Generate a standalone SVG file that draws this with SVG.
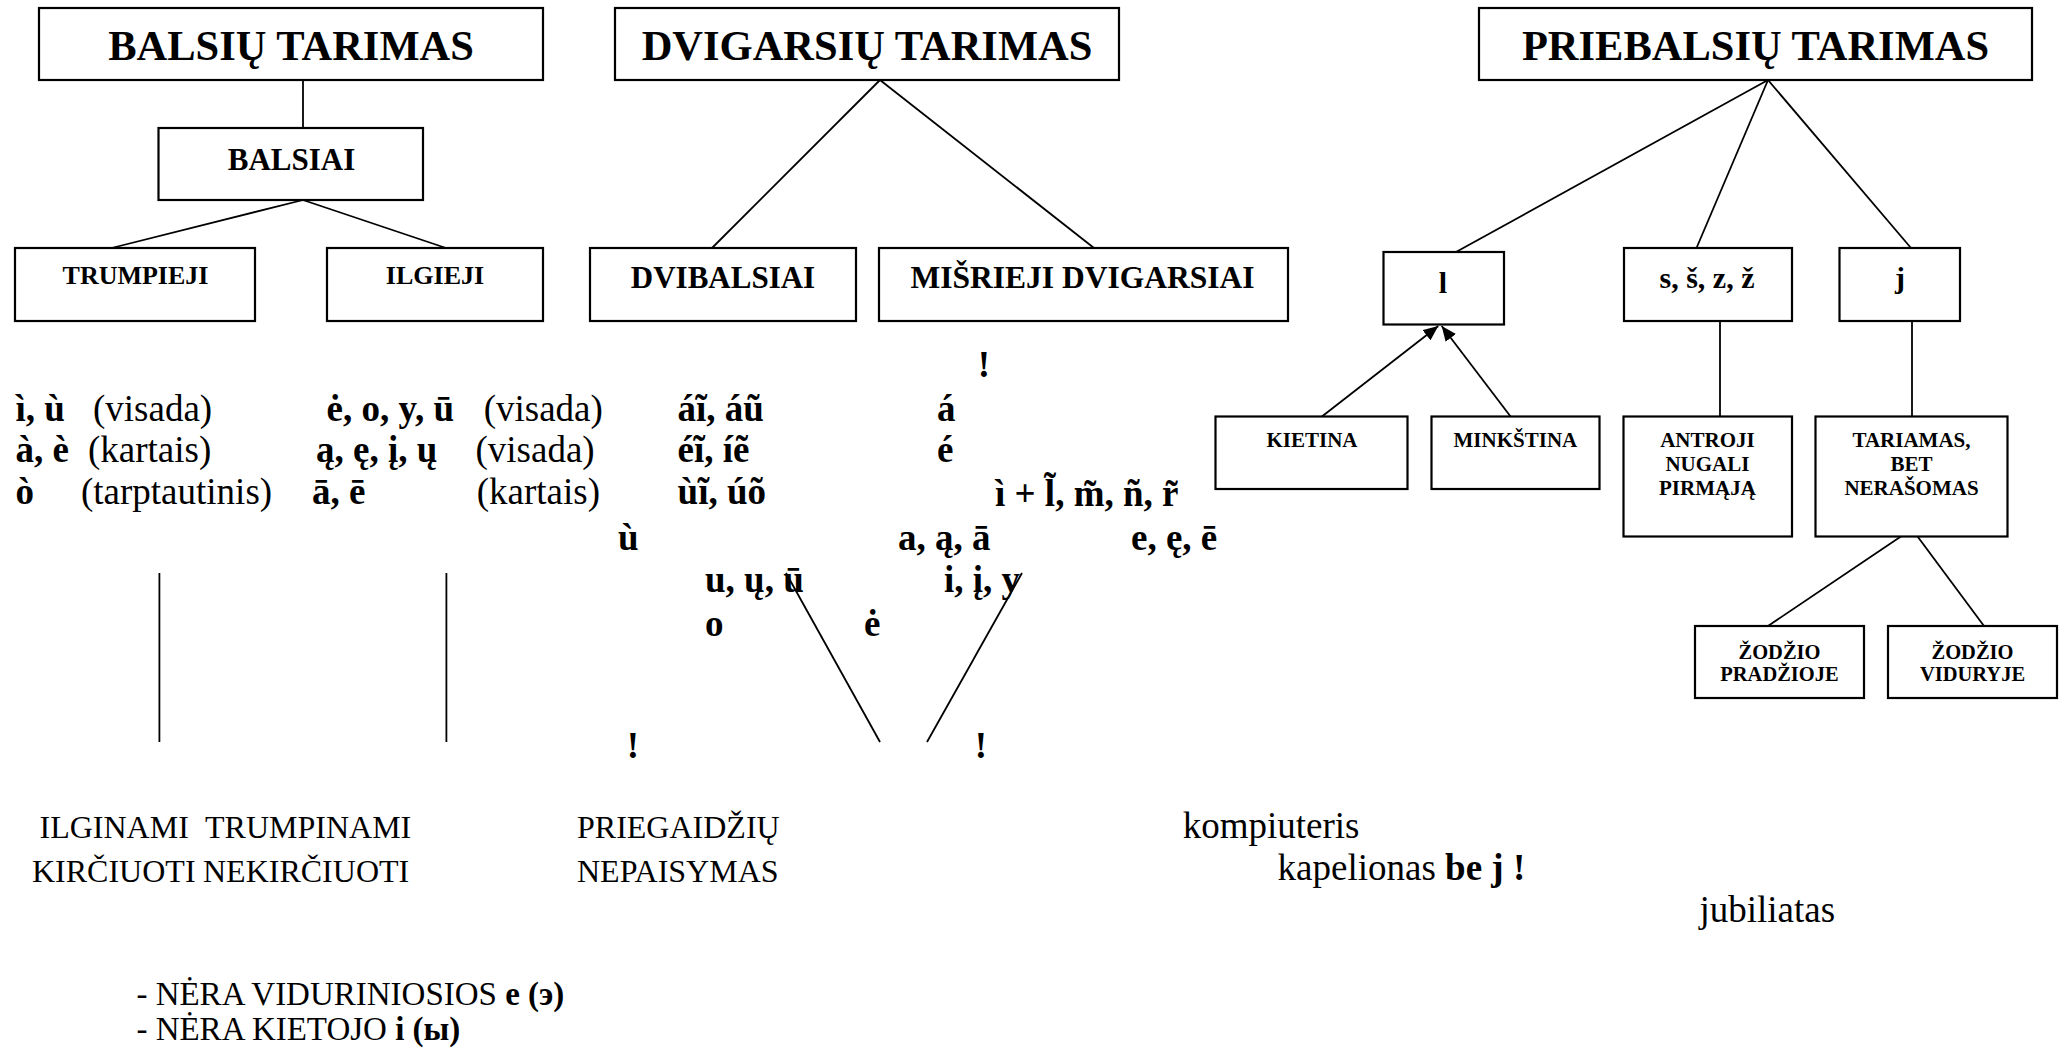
<svg xmlns="http://www.w3.org/2000/svg" width="2060" height="1054" viewBox="0 0 2060 1054">
<style>
.box{fill:#fff;stroke:#000;stroke-width:2.2}
.ln{stroke:#000;stroke-width:1.8;fill:none}
text{font-family:"Liberation Serif","Times New Roman",serif;fill:#000}
.b{font-weight:bold}
.mid{text-anchor:middle}
.t1{font-size:42.5px;font-weight:bold;text-anchor:middle}
.t2{font-size:31px;font-weight:bold;text-anchor:middle}
.t3{font-size:26px;font-weight:bold;text-anchor:middle}
.t4{font-size:21px;font-weight:bold;text-anchor:middle}
.t5{font-size:20.5px;font-weight:bold;text-anchor:middle}
.s37{font-size:37px}
.s32{font-size:32px}
.s33{font-size:33px}
</style>
<defs>
<marker id="arr" markerUnits="userSpaceOnUse" markerWidth="15" markerHeight="13" refX="15" refY="6.5" orient="auto">
<path d="M0,0 L15,6.5 L0,13 Z" fill="#000"/>
</marker>
</defs>
<rect width="2060" height="1054" fill="#fff"/>

<g id="connectors">
<line class="ln" x1="303" y1="80" x2="303" y2="128"/>
<line class="ln" x1="303" y1="200" x2="111.6" y2="248"/>
<line class="ln" x1="303" y1="200" x2="446" y2="248"/>
<line class="ln" x1="880" y1="80" x2="712" y2="248"/>
<line class="ln" x1="880" y1="80" x2="1094" y2="248"/>
<line class="ln" x1="1768" y1="80" x2="1456" y2="252"/>
<line class="ln" x1="1768" y1="80" x2="1696.5" y2="248"/>
<line class="ln" x1="1768" y1="80" x2="1911" y2="248"/>
<line class="ln" x1="1720" y1="321" x2="1720" y2="416.5"/>
<line class="ln" x1="1912" y1="321" x2="1912" y2="416.5"/>
<line class="ln" x1="1320" y1="418" x2="1438.3" y2="326" marker-end="url(#arr)"/>
<line class="ln" x1="1511.7" y1="418" x2="1441.7" y2="326" marker-end="url(#arr)"/>
<line class="ln" x1="1912" y1="529" x2="1768" y2="626"/>
<line class="ln" x1="1912" y1="529" x2="1984" y2="626"/>
<line class="ln" x1="159.4" y1="573" x2="159.4" y2="742"/>
<line class="ln" x1="446.4" y1="573" x2="446.4" y2="742"/>
<line class="ln" x1="786" y1="573" x2="880" y2="742"/>
<line class="ln" x1="1022" y1="573" x2="927" y2="742"/>
</g>

<g id="balsiu-tarimas"><rect class="box" x="39" y="8" width="504" height="72"/><text class="t1" x="291" y="60">BALSIŲ TARIMAS</text></g>
<g id="balsiai"><rect class="box" x="158.5" y="128" width="264.5" height="72"/><text class="t2" x="291.5" y="170">BALSIAI</text></g>
<g id="trumpieji"><rect class="box" x="15" y="248" width="240" height="73"/><text class="t3" x="135.5" y="284">TRUMPIEJI</text></g>
<g id="ilgieji"><rect class="box" x="327" y="248" width="216" height="73"/><text class="t3" x="435" y="284">ILGIEJI</text></g>

<g id="dvigarsiu-tarimas"><rect class="box" x="615" y="8" width="504" height="72"/><text class="t1" x="867" y="60">DVIGARSIŲ TARIMAS</text></g>
<g id="dvibalsiai"><rect class="box" x="590" y="248" width="266" height="73"/><text class="t2" x="723" y="288">DVIBALSIAI</text></g>
<g id="misrieji"><rect class="box" x="879" y="248" width="409" height="73"/><text class="t2" x="1082.5" y="288" style="font-size:31.5px">MIŠRIEJI DVIGARSIAI</text></g>

<g id="priebalsiu-tarimas"><rect class="box" x="1479" y="8" width="553" height="72"/><text class="t1" x="1755.5" y="60">PRIEBALSIŲ TARIMAS</text></g>
<g id="l"><rect class="box" x="1383.5" y="252" width="120.5" height="72.5"/><text class="t2" x="1443" y="293" style="font-size:30px">l</text></g>
<g id="s"><rect class="box" x="1624" y="248" width="168" height="73"/><text class="t2" x="1707" y="288" style="font-size:30px">s, š, z, ž</text></g>
<g id="j"><rect class="box" x="1839.5" y="248" width="120.5" height="73"/><text class="t2" x="1900" y="288" style="font-size:30px">j</text></g>
<g id="kietina"><rect class="box" x="1215.5" y="416.5" width="192" height="72.5"/><text class="t4" x="1312" y="446.7">KIETINA</text></g>
<g id="minkstina"><rect class="box" x="1431.5" y="416.5" width="168" height="72.5"/><text class="t4" x="1515.4" y="446.7">MINKŠTINA</text></g>
<g id="antroji"><rect class="box" x="1623.5" y="416.5" width="168.5" height="120"/><text class="t4" x="1707.4" y="446.7">ANTROJI</text><text class="t4" x="1707.4" y="470.7">NUGALI</text><text class="t4" x="1707.4" y="495">PIRMĄJĄ</text></g>
<g id="tariamas"><rect class="box" x="1815.5" y="416.5" width="192" height="120"/><text class="t4" x="1911.5" y="446.7">TARIAMAS,</text><text class="t4" x="1911.5" y="470.7">BET</text><text class="t4" x="1911.5" y="495">NERAŠOMAS</text></g>
<g id="zodzio-pradzioje"><rect class="box" x="1695" y="626" width="169" height="72"/><text class="t5" x="1779.5" y="659">ŽODŽIO</text><text class="t5" x="1779.5" y="681">PRADŽIOJE</text></g>
<g id="zodzio-viduryje"><rect class="box" x="1888" y="626" width="169" height="72"/><text class="t5" x="1972.5" y="659">ŽODŽIO</text><text class="t5" x="1972.5" y="681">VIDURYJE</text></g>

<g id="annotations">
<text class="s37 b mid" x="984" y="377">!</text>
<text class="s37 b" x="15.5" y="421">ì, ù</text>
<text class="s37" x="93" y="421">(visada)</text>
<text class="s37 b" x="326.5" y="421">ė, o, y, ū</text>
<text class="s37" x="483.7" y="421">(visada)</text>
<text class="s37 b" x="677.6" y="421">áĩ, áũ</text>
<text class="s37 b" x="937" y="421">á</text>

<text class="s37 b" x="15.5" y="462">à, è</text>
<text class="s37" x="88" y="462">(kartais)</text>
<text class="s37 b" x="316" y="462">ą, ę, į, ų</text>
<text class="s37" x="475.5" y="462">(visada)</text>
<text class="s37 b" x="677.6" y="462">éĩ, íẽ</text>
<text class="s37 b" x="937" y="462">é</text>

<text class="s37 b" x="15.5" y="504">ò</text>
<text class="s37" x="81" y="504">(tarptautinis)</text>
<text class="s37 b" x="312" y="504">ā, ē</text>
<text class="s37" x="476.7" y="504">(kartais)</text>
<text class="s37 b" x="677.6" y="504">ùĩ, úõ</text>
<text class="s37 b" x="995" y="506">ì + l̃, m̃, ñ, r̃</text>

<text class="s37 b" x="618" y="550">ù</text>
<text class="s37 b" x="898" y="550">a, ą, ā</text>
<text class="s37 b" x="1131" y="550">e, ę, ē</text>
<text class="s37 b" x="705" y="592">u, ų, ū</text>
<text class="s37 b" x="944" y="592">i, į, y</text>
<text class="s37 b" x="705" y="636">o</text>
<text class="s37 b" x="864" y="636">ė</text>

<text class="s37 b mid" x="633" y="758">!</text>
<text class="s37 b mid" x="981" y="758">!</text>

<text class="s32" x="39.5" y="838">ILGINAMI</text>
<text class="s32" x="205" y="838">TRUMPINAMI</text>
<text class="s32" x="32" y="882">KIRČIUOTI</text>
<text class="s32" x="203" y="882">NEKIRČIUOTI</text>
<text class="s32" x="577" y="838">PRIEGAIDŽIŲ</text>
<text class="s32" x="577" y="882">NEPAISYMAS</text>

<text class="s37" x="1182.7" y="838">kompiuteris</text>
<text class="s37" x="1277.6" y="880">kapelionas <tspan class="b">be j !</tspan></text>
<text class="s37" x="1699.5" y="922">jubiliatas</text>

<text class="s33" x="136.4" y="1005">- NĖRA VIDURINIOSIOS <tspan class="b">e (э)</tspan></text>
<text class="s33" x="136.4" y="1040">- NĖRA KIETOJO <tspan class="b">i (ы)</tspan></text>
</g>
</svg>
